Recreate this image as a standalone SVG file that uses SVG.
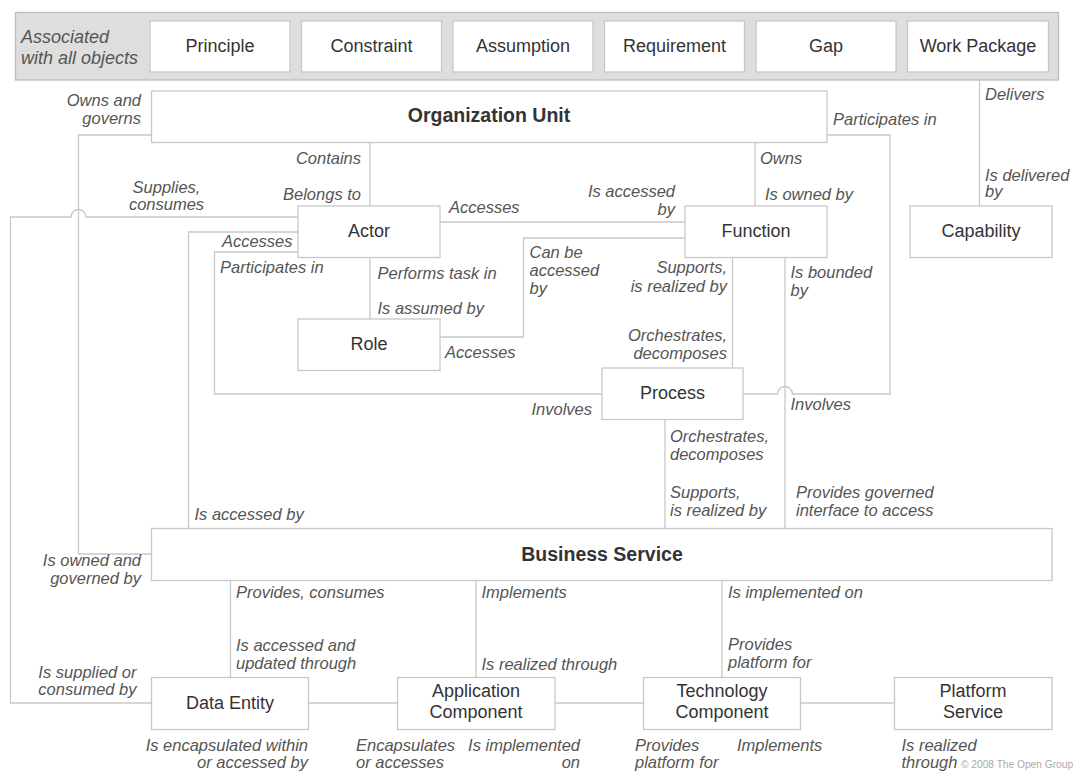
<svg xmlns="http://www.w3.org/2000/svg" width="1073" height="772" viewBox="0 0 1073 772">
<style>
.bar{fill:#dedede;stroke:#bdbdbd;stroke-width:1.3}
.box{fill:#fff;stroke:#c8c8c8;stroke-width:1.3}
.c{fill:none;stroke:#c8c8c8;stroke-width:1.3}
.n{font-family:"Liberation Sans",Arial,sans-serif;font-size:18px;fill:#333;text-anchor:middle}
.b{font-weight:bold;font-size:19.5px}
.l{font-family:"Liberation Sans",Arial,sans-serif;font-size:16.5px;font-style:italic;fill:#555}
.e{text-anchor:end}
.m{text-anchor:middle}
.cp{font-family:"Liberation Sans",Arial,sans-serif;font-size:10.2px;fill:#aaa}
</style>
<rect width="1073" height="772" fill="#fff"/>
<g id="connectors">
<path class="c" d="M151.5,135 H78.5 V554 H151.5"/>
<path class="c" d="M370,142.5 V206"/>
<path class="c" d="M755,142.5 V206"/>
<path class="c" d="M743,394 H777.5 A7.5,7.5 0 0 1 792.5,394 H890 V135 H827"/>
<path class="c" d="M979.5,72 V206"/>
<path class="c" d="M298,217 H86 A7.5,7.5 0 0 0 71,217 H10.5 V703 H151.5"/>
<path class="c" d="M440,222 H685"/>
<path class="c" d="M298,232 H188.5 V528.5"/>
<path class="c" d="M298,252 H214.5 V394 H602"/>
<path class="c" d="M370,258 V319"/>
<path class="c" d="M440,337 H523.5 V238 H685"/>
<path class="c" d="M732.5,258 V368"/>
<path class="c" d="M785,258 V528.5"/>
<path class="c" d="M665,420 V528.5"/>
<path class="c" d="M230.5,580.5 V677.5"/>
<path class="c" d="M476,580.5 V677.5"/>
<path class="c" d="M722,580.5 V677.5"/>
<path class="c" d="M308.5,703 H397.5"/>
<path class="c" d="M555,703 H643.5"/>
<path class="c" d="M800.5,703 H894.5"/>
</g>
<g id="all-objects">
<rect class="bar" x="15.5" y="12.5" width="1043" height="67.5"/>
<text class="l" x="21" y="43" style="font-size:18px">Associated</text>
<text class="l" x="21" y="64" style="font-size:18px">with all objects</text>
</g>
<g id="principle"><rect class="box" x="150" y="21" width="140" height="51"/><text class="n" x="220" y="52">Principle</text></g>
<g id="constraint"><rect class="box" x="301.5" y="21" width="140" height="51"/><text class="n" x="371.5" y="52">Constraint</text></g>
<g id="assumption"><rect class="box" x="453" y="21" width="140" height="51"/><text class="n" x="523" y="52">Assumption</text></g>
<g id="requirement"><rect class="box" x="604.5" y="21" width="140" height="51"/><text class="n" x="674.5" y="52">Requirement</text></g>
<g id="gap"><rect class="box" x="756" y="21" width="140" height="51"/><text class="n" x="826" y="52">Gap</text></g>
<g id="work-package"><rect class="box" x="907.5" y="21" width="141" height="51"/><text class="n" x="978" y="52">Work Package</text></g>
<g id="organization-unit"><rect class="box" x="151.5" y="91" width="675.5" height="51.5"/><text class="n b" x="489" y="122">Organization Unit</text></g>
<g id="actor"><rect class="box" x="298" y="206" width="142" height="51.5"/><text class="n" x="369" y="237">Actor</text></g>
<g id="function"><rect class="box" x="685" y="206" width="142" height="51.5"/><text class="n" x="756" y="237">Function</text></g>
<g id="capability"><rect class="box" x="910" y="206" width="142" height="51.5"/><text class="n" x="981" y="237">Capability</text></g>
<g id="role"><rect class="box" x="298" y="319" width="142" height="51.5"/><text class="n" x="369" y="350">Role</text></g>
<g id="process"><rect class="box" x="602" y="368" width="141" height="51.5"/><text class="n" x="672.5" y="399">Process</text></g>
<g id="business-service"><rect class="box" x="151.5" y="528.5" width="900.5" height="52"/><text class="n b" x="602" y="560.5">Business Service</text></g>
<g id="data-entity"><rect class="box" x="151.5" y="677.5" width="157" height="52"/><text class="n" x="230" y="709">Data Entity</text></g>
<g id="application-component"><rect class="box" x="397.5" y="677.5" width="157.5" height="52"/><text class="n" x="476" y="697">Application</text><text class="n" x="476" y="718">Component</text></g>
<g id="technology-component"><rect class="box" x="643.5" y="677.5" width="157" height="52"/><text class="n" x="722" y="697">Technology</text><text class="n" x="722" y="718">Component</text></g>
<g id="platform-service"><rect class="box" x="894.5" y="677.5" width="157.5" height="52"/><text class="n" x="973" y="697">Platform</text><text class="n" x="973" y="718">Service</text></g>
<g id="labels">
<text class="l e" x="141" y="106">Owns and</text>
<text class="l e" x="141" y="124">governs</text>
<text class="l e" x="361" y="164">Contains</text>
<text class="l e" x="361" y="200">Belongs to</text>
<text class="l m" x="166.5" y="193">Supplies,</text>
<text class="l m" x="166.5" y="210">consumes</text>
<text class="l" x="449" y="213">Accesses</text>
<text class="l e" x="675" y="196.5">Is accessed</text>
<text class="l e" x="675" y="214.5">by</text>
<text class="l" x="760" y="164">Owns</text>
<text class="l" x="765" y="200">Is owned by</text>
<text class="l" x="833" y="125">Participates in</text>
<text class="l" x="985" y="100">Delivers</text>
<text class="l" x="985" y="180.5">Is delivered</text>
<text class="l" x="985" y="197">by</text>
<text class="l e" x="292.5" y="247">Accesses</text>
<text class="l" x="220" y="273">Participates in</text>
<text class="l" x="377.5" y="279">Performs task in</text>
<text class="l" x="377.5" y="314">Is assumed by</text>
<text class="l" x="529.5" y="258">Can be</text>
<text class="l" x="529.5" y="276">accessed</text>
<text class="l" x="529.5" y="294">by</text>
<text class="l e" x="727" y="273">Supports,</text>
<text class="l e" x="727" y="291.5">is realized by</text>
<text class="l" x="790.5" y="278">Is bounded</text>
<text class="l" x="790.5" y="296">by</text>
<text class="l e" x="727" y="341">Orchestrates,</text>
<text class="l e" x="727" y="359">decomposes</text>
<text class="l" x="445" y="358">Accesses</text>
<text class="l e" x="592" y="415">Involves</text>
<text class="l" x="790.5" y="410">Involves</text>
<text class="l" x="670" y="442">Orchestrates,</text>
<text class="l" x="670" y="460">decomposes</text>
<text class="l" x="670" y="498">Supports,</text>
<text class="l" x="670" y="516">is realized by</text>
<text class="l" x="796" y="498">Provides governed</text>
<text class="l" x="796" y="516">interface to access</text>
<text class="l" x="194.5" y="520">Is accessed by</text>
<text class="l e" x="141" y="566">Is owned and</text>
<text class="l e" x="141" y="584">governed by</text>
<text class="l" x="236" y="598">Provides, consumes</text>
<text class="l" x="481.5" y="598">Implements</text>
<text class="l" x="728" y="598">Is implemented on</text>
<text class="l" x="236" y="651">Is accessed and</text>
<text class="l" x="236" y="669">updated through</text>
<text class="l" x="481.5" y="670">Is realized through</text>
<text class="l" x="728" y="650">Provides</text>
<text class="l" x="728" y="668">platform for</text>
<text class="l e" x="136.5" y="677.5">Is supplied or</text>
<text class="l e" x="136.5" y="695">consumed by</text>
<text class="l e" x="308" y="751">Is encapsulated within</text>
<text class="l e" x="308" y="768">or accessed by</text>
<text class="l" x="356" y="751">Encapsulates</text>
<text class="l" x="356" y="768">or accesses</text>
<text class="l e" x="580" y="751">Is implemented</text>
<text class="l e" x="580" y="768">on</text>
<text class="l" x="635" y="751">Provides</text>
<text class="l" x="635" y="768">platform for</text>
<text class="l" x="737" y="751">Implements</text>
<text class="l" x="901.5" y="751">Is realized</text>
<text class="l" x="901.5" y="768">through</text>
<text class="cp" x="961" y="768">© 2008 The Open Group</text>
</g>
</svg>
